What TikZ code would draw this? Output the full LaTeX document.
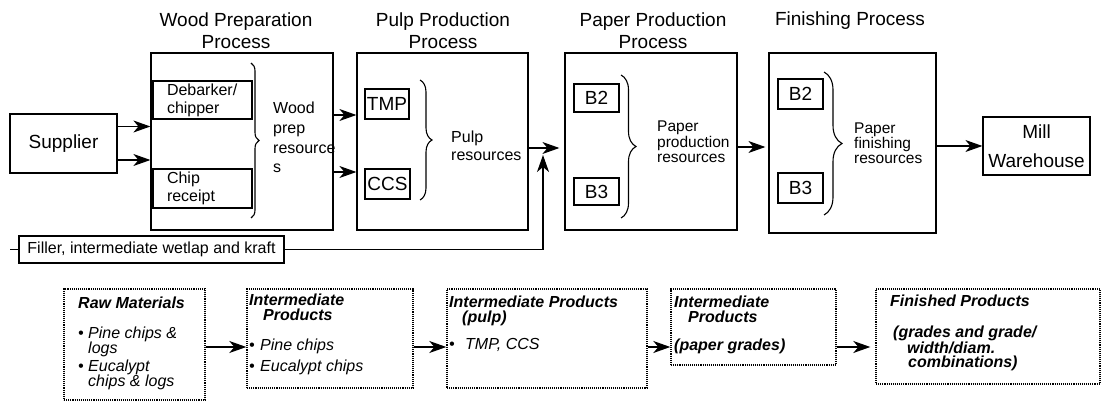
\documentclass[tikz,border=0pt]{standalone}
\usepackage{fontspec}
\setmainfont{Liberation Sans}
\usetikzlibrary{arrows.meta,decorations.pathreplacing,positioning}

\tikzset{
  box/.style={draw, line width=1.2pt, inner sep=0pt},
  arr/.style={line width=1.2pt, -{Stealth[length=17pt,width=12pt,inset=5pt]}},
  brc/.style={decorate, line width=1.1pt, decoration={brace, amplitude=#1}},
  prodbox/.style={draw, line width=1.4pt, dash pattern=on 1.1pt off 1pt, inner sep=0pt},
  bigtxt/.style={font=\fontsize{19}{22}\selectfont, align=center, inner sep=0pt},
  txt/.style={font=\fontsize{16}{18}\selectfont, align=left, inner sep=0pt},
  prodtxt/.style={font=\fontsize{16}{15}\selectfont\itshape, align=left, inner sep=0pt, anchor=north west}
}
\newcommand{\bul}[1][10pt]{\makebox[#1][l]{\textbullet}}

\begin{document}
\begin{tikzpicture}[x=1pt,y=-1pt]
\useasboundingbox (0,0) rectangle (1102,403);

% Process titles
\node[bigtxt] (ttlwood) at (236,31) {Wood Preparation\\Process};
\node[bigtxt] (ttlpulp) at (443,31) {Pulp Production\\Process};
\node[bigtxt] (ttlpaper) at (653,31) {Paper Production\\Process};
\node[bigtxt] (ttlfin) at (850,21) {Finishing Process};

% Process boxes
\node[box, minimum width=182pt, minimum height=177pt] (wood) at (242,141.5) {};
\node[box, minimum width=171pt, minimum height=177pt] (pulp) at (442.5,141.5) {};
\node[box, minimum width=172pt, minimum height=177pt] (paper) at (651,141.5) {};
\node[box, minimum width=167pt, minimum height=180pt] (finish) at (852.5,143) {};

% Supplier and warehouse
\node[box, bigtxt, minimum width=107pt, minimum height=59pt] (supplier) at (63.5,143.5) {Supplier};
\node[box, bigtxt, minimum width=107pt, minimum height=58pt] (mill) at (1036.5,146) {Mill\\[7pt]Warehouse};

% Wood preparation
\node[box, txt, minimum width=99pt, minimum height=38pt, text width=71pt] (debark) at (202.5,100) {Debarker/\\chipper};
\node[box, txt, minimum width=99pt, minimum height=39pt, text width=71pt] (chip) at (202.5,188.5) {Chip\\receipt};
\draw[brc=8pt] (251,63) -- (251,218);
\node[txt, anchor=west, font=\fontsize{16}{19.7}\selectfont] (woodres) at (273,137.5) {Wood\\prep\\resource\\s};

% Pulp production
\node[box, bigtxt, minimum width=44pt, minimum height=30pt] (tmp) at (387,104) {TMP};
\node[box, bigtxt, minimum width=45pt, minimum height=30pt] (ccs) at (387.5,184) {CCS};
\draw[brc=12pt] (420,80) -- (420,200);
\node[txt, anchor=west] (pulpres) at (451,146) {Pulp\\resources};

% Paper production
\node[box, bigtxt, minimum width=45pt, minimum height=28pt] (pb2) at (596.5,98) {B2};
\node[box, bigtxt, minimum width=45pt, minimum height=27pt] (pb3) at (596.5,191.5) {B3};
\draw[brc=15pt] (621,75) -- (621,218);
\node[txt, anchor=west, font=\fontsize{15.5}{15.5}\selectfont] (paperres) at (657,142) {Paper\\production\\resources};

% Finishing
\node[box, bigtxt, minimum width=45pt, minimum height=30pt] (fb2) at (800.5,94) {B2};
\node[box, bigtxt, minimum width=45pt, minimum height=30pt] (fb3) at (800.5,188) {B3};
\draw[brc=18pt] (824,72) -- (824,215);
\node[txt, anchor=west, font=\fontsize{15.5}{15}\selectfont] (finres) at (854,143) {Paper\\finishing\\resources};

% Filler feed
\node[box, txt, minimum width=265pt, minimum height=27pt] (filler) at (151.5,249.5) {Filler, intermediate wetlap and kraft};
\coordinate (fillin) at (10,249.5);
\coordinate (merge) at (543,148);

% Flow arrows
\draw[arr] ([yshift=17pt]supplier.east) -- ([yshift=17pt]supplier.east -| wood.west);
\draw[arr] ([yshift=-16.5pt]supplier.east) -- ([yshift=-16.5pt]supplier.east -| wood.west);
\draw[arr] ([yshift=26.5pt]wood.east) -- ([yshift=26.5pt]wood.east -| pulp.west);
\draw[arr] ([yshift=-30.5pt]wood.east) -- ([yshift=-30.5pt]wood.east -| pulp.west);
\draw[arr, shorten >=5pt] (pulp.east |- merge) -- (paper.west |- merge);
\draw[line width=1.2pt] (fillin) -- (filler.west);
\draw[arr] (filler.east) -| ([yshift=-7pt]merge);
\draw[arr, shorten >=3pt] ([yshift=-5.5pt]paper.east) -- ([yshift=-5.5pt]paper.east -| finish.west);
\draw[arr] (finish.east |- mill.west) -- (mill.west);

% Product boxes
\coordinate (lvl) at (0,347);
\node[prodbox, minimum width=141pt, minimum height=111pt] (raw) at (134.5,344.5) {};
\node[prodbox, minimum width=166pt, minimum height=99pt] (inter1) at (330,338.5) {};
\node[prodbox, minimum width=200pt, minimum height=99pt] (inter2) at (547,338.5) {};
\node[prodbox, minimum width=165pt, minimum height=76pt] (inter3) at (753.5,327) {};
\node[prodbox, minimum width=224pt, minimum height=95pt] (fin) at (988,336.5) {};

\node[prodtxt] (rawtxt) at (78,297) {\textbf{Raw Materials}\\[15pt]
  \bul Pine chips \&\\ \hspace*{10pt}logs\\[3pt]
  \bul Eucalypt\\ \hspace*{10pt}chips \& logs};
\node[prodtxt] (i1txt) at (249,294) {\textbf{Intermediate}\\ \hspace*{14pt}\textbf{Products}\\[15pt]
  \bul[11pt]Pine chips\\[6pt] \bul[11pt]Eucalypt chips};
\node[prodtxt] (i2txt) at (449,296) {\textbf{Intermediate Products}\\ \hspace*{13pt}\textbf{(pulp)}\\[12pt]
  \bul[16pt]TMP, CCS};
\node[prodtxt] (i3txt) at (674,296) {\textbf{Intermediate}\\ \hspace*{14pt}\textbf{Products}\\[13pt]
  \textbf{(paper grades)}};
\node[prodtxt, font=\fontsize{16}{14}\selectfont\bfseries\itshape] (fintxt) at (890,295) {Finished Products\\[17pt]
  \hspace*{3pt}(grades and grade/\\ \hspace*{17pt}width/diam.\\ \hspace*{18pt}combinations)};

% Product arrows
\foreach \a/\b in {raw/inter1, inter1/inter2, inter2/inter3} {
    \draw[arr] (\a.east |- lvl) -- (\b.west |- lvl);
}
\draw[arr, shorten >=5pt] (inter3.east |- lvl) -- (fin.west |- lvl);
\end{tikzpicture}
\end{document}
